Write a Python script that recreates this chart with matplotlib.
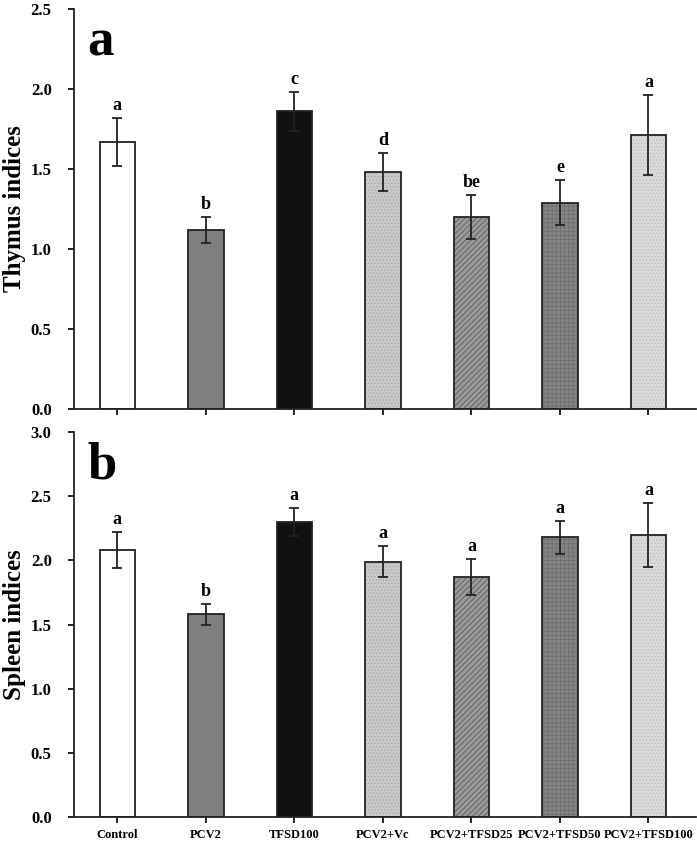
import numpy as np
from matplotlib import pyplot as plt

plt.rcParams['font.family'] = ['Liberation Serif', 'DejaVu Serif']
plt.rcParams['font.weight'] = 'bold'
plt.rcParams['hatch.linewidth'] = 0.6

groups = ['Control', 'PCV2', 'TFSD100', 'PCV2+Vc',
          'PCV2+TFSD25', 'PCV2+TFSD50', 'PCV2+TFSD100']

# thymus indices (panel a)
thymus_mean = [1.67, 1.12, 1.86, 1.48, 1.20, 1.29, 1.71]
thymus_err = [0.15, 0.08, 0.12, 0.12, 0.14, 0.14, 0.25]
thymus_sig = ['a', 'b', 'c', 'd', 'be', 'e', 'a']

# spleen indices (panel b)
spleen_mean = [2.08, 1.58, 2.30, 1.99, 1.87, 2.18, 2.20]
spleen_err = [0.14, 0.08, 0.11, 0.12, 0.14, 0.13, 0.25]
spleen_sig = ['a', 'b', 'a', 'a', 'a', 'a', 'a']

faces = ['white', '#7f7f7f', '#111111', '#c9c9c9', '#9a9a9a', '#858585', '#dadada']
hatches = [None, None, None, '.....', '//////', '++++', '.....']
hatch_cols = [None, None, None, '#a8a8a8', '#5a5a5a', '#6e6e6e', '#bdbdbd']


def draw_panel(ax, means, errs, sigs, ymax, ylabel, letter, show_labels):
    x = np.arange(len(groups))
    for i in range(len(groups)):
        if hatches[i]:
            ax.bar(x[i], means[i], width=0.4, color=faces[i],
                   edgecolor=hatch_cols[i], hatch=hatches[i], linewidth=0)
        else:
            ax.bar(x[i], means[i], width=0.4, color=faces[i], linewidth=0)
    ax.bar(x, means, width=0.4, fill=False, edgecolor='#222222', linewidth=1.3)
    ax.errorbar(x, means, yerr=errs, fmt='none', ecolor='#222222',
                elinewidth=1.3, capsize=3.5, capthick=1.3)
    for i in range(len(groups)):
        ax.text(x[i], means[i] + errs[i] + ymax * 0.01, sigs[i],
                ha='center', va='bottom', fontsize=13, fontweight='bold')
    ax.set_xlim(-0.49, 6.54)
    ax.set_ylim(0, ymax)
    ticks = np.arange(0, ymax + 0.01, 0.5)
    ax.set_yticks(ticks)
    ax.set_yticklabels(['%.1f' % v for v in ticks], fontsize=12, fontweight='bold')
    ax.set_xticks(x)
    if show_labels:
        ax.set_xticklabels(groups, fontsize=9, fontweight='bold')
    else:
        ax.set_xticklabels([])
    ax.tick_params(axis='y', direction='out', length=4, width=1.2, pad=12)
    ax.tick_params(axis='x', direction='out', length=4, width=1.2, pad=5)
    for s in ['top', 'right']:
        ax.spines[s].set_visible(False)
    for s in ['left', 'bottom']:
        ax.spines[s].set_linewidth(1.3)
        ax.spines[s].set_color('#222222')
    ax.set_ylabel(ylabel, fontsize=18, fontweight='bold', labelpad=3)
    ax.text(0.022, 0.975, letter, transform=ax.transAxes, ha='left', va='top',
            fontsize=38, fontweight='bold')


fig = plt.figure(figsize=(6.97, 8.44), dpi=100)
ax1 = fig.add_axes([0.106, 0.5154, 0.893, 0.474])
ax2 = fig.add_axes([0.106, 0.032, 0.893, 0.456])

draw_panel(ax1, thymus_mean, thymus_err, thymus_sig, 2.5, 'Thymus indices', 'a', False)
draw_panel(ax2, spleen_mean, spleen_err, spleen_sig, 3.0, 'Spleen indices', 'b', True)

fig.savefig('out.png', dpi=100)
